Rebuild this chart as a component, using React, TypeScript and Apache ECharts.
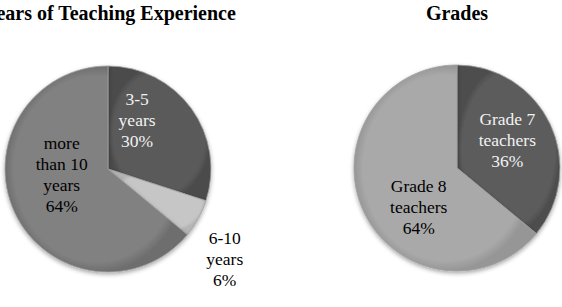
import React, { useEffect, useRef } from "react";
import * as echarts from "echarts";

const titles = ["Years of Teaching Experience", "Grades"];

const experienceCategories = ["3-5 years", "6-10 years", "more than 10 years"];
const experienceLabelLines = [["3-5", "years"], ["6-10", "years"], ["more", "than 10", "years"]];
const experienceValues = [30, 6, 64];

const gradeCategories = ["Grade 7 teachers", "Grade 8 teachers"];
const gradeLabelLines = [["Grade 7", "teachers"], ["Grade 8", "teachers"]];
const gradeValues = [36, 64];

// label nudges relative to ECharts' inner label positions
const experienceNudge = [[-15, -17], [69, 64], [3, -18]];
const gradeNudge = [[1, -5], [11, 16]];

const FONT = "'Liberation Serif', 'Times New Roman', serif";

function grad(inner: string, outer: string) {
  return new echarts.graphic.RadialGradient(0.5, 0.5, 0.5, [
    { offset: 0, color: inner },
    { offset: 0.9, color: inner },
    { offset: 1, color: outer },
  ]);
}

export default function App() {
  const ref = useRef<HTMLDivElement>(null);
  useEffect(() => {
    if (!ref.current) return;
    const chart = echarts.init(ref.current, null, { renderer: "svg" });
    const expColors = [
      { fill: grad("#5a5a5a", "#4c4c4c"), text: "#f2f2f2" },
      { fill: grad("#c6c6c6", "#b4b4b4"), text: "#000" },
      { fill: grad("#818181", "#6e6e6e"), text: "#000" },
    ];
    const gradeColors = [
      { fill: grad("#5c5c5c", "#4d4d4d"), text: "#f2f2f2" },
      { fill: grad("#a9a9a9", "#969696"), text: "#000" },
    ];
    const common = {
      type: "pie" as const,
      radius: 103,
      startAngle: 90,
      clockwise: true,
      avoidLabelOverlap: false,
      labelLine: { show: false },
      emphasis: { disabled: true },
      silent: true,
    };
    const mk = (
      cats: string[],
      vals: number[],
      lines: string[][],
      colors: { fill: any; text: string }[]
    ) =>
      cats.map((name, i) => ({
        name,
        value: vals[i],
        itemStyle: {
          color: colors[i].fill,
          borderColor: "#a0a0a0",
          borderWidth: 0.8,
          shadowBlur: 4,
          shadowOffsetY: 2,
          shadowColor: "rgba(0,0,0,0.35)",
        },
        label: {
          show: true,
          position: "inner",
          formatter: () => [...lines[i], `${vals[i]}%`].join("\n"),
          color: colors[i].text,
          fontFamily: FONT,
          fontSize: 17.5,
          lineHeight: 21,
          align: "center",
        },
      }));
    chart.setOption({
      animation: false,
      title: [
        {
          text: titles[0],
          left: 110,
          top: 3,
          padding: 0,
          textAlign: "center",
          textStyle: { fontFamily: FONT, fontSize: 20, fontWeight: "bold", color: "#000" },
        },
        {
          text: titles[1],
          left: 457,
          top: 3,
          padding: 0,
          textAlign: "center",
          textStyle: { fontFamily: FONT, fontSize: 20, fontWeight: "bold", color: "#000" },
        },
      ],
      series: [
        {
          ...common,
          center: [108, 169],
          data: mk(experienceCategories, experienceValues, experienceLabelLines, expColors),
          labelLayout: (p: any) => ({ dx: experienceNudge[p.dataIndex][0], dy: experienceNudge[p.dataIndex][1] }),
        },
        {
          ...common,
          center: [457, 168],
          data: mk(gradeCategories, gradeValues, gradeLabelLines, gradeColors),
          labelLayout: (p: any) => ({ dx: gradeNudge[p.dataIndex][0], dy: gradeNudge[p.dataIndex][1] }),
        },
      ],
    });
    return () => chart.dispose();
  }, []);
  return (
    <div
      ref={ref}
      style={{ position: "fixed", left: 0, top: 0, width: 562, height: 307, background: "#fff" }}
    />
  );
}
